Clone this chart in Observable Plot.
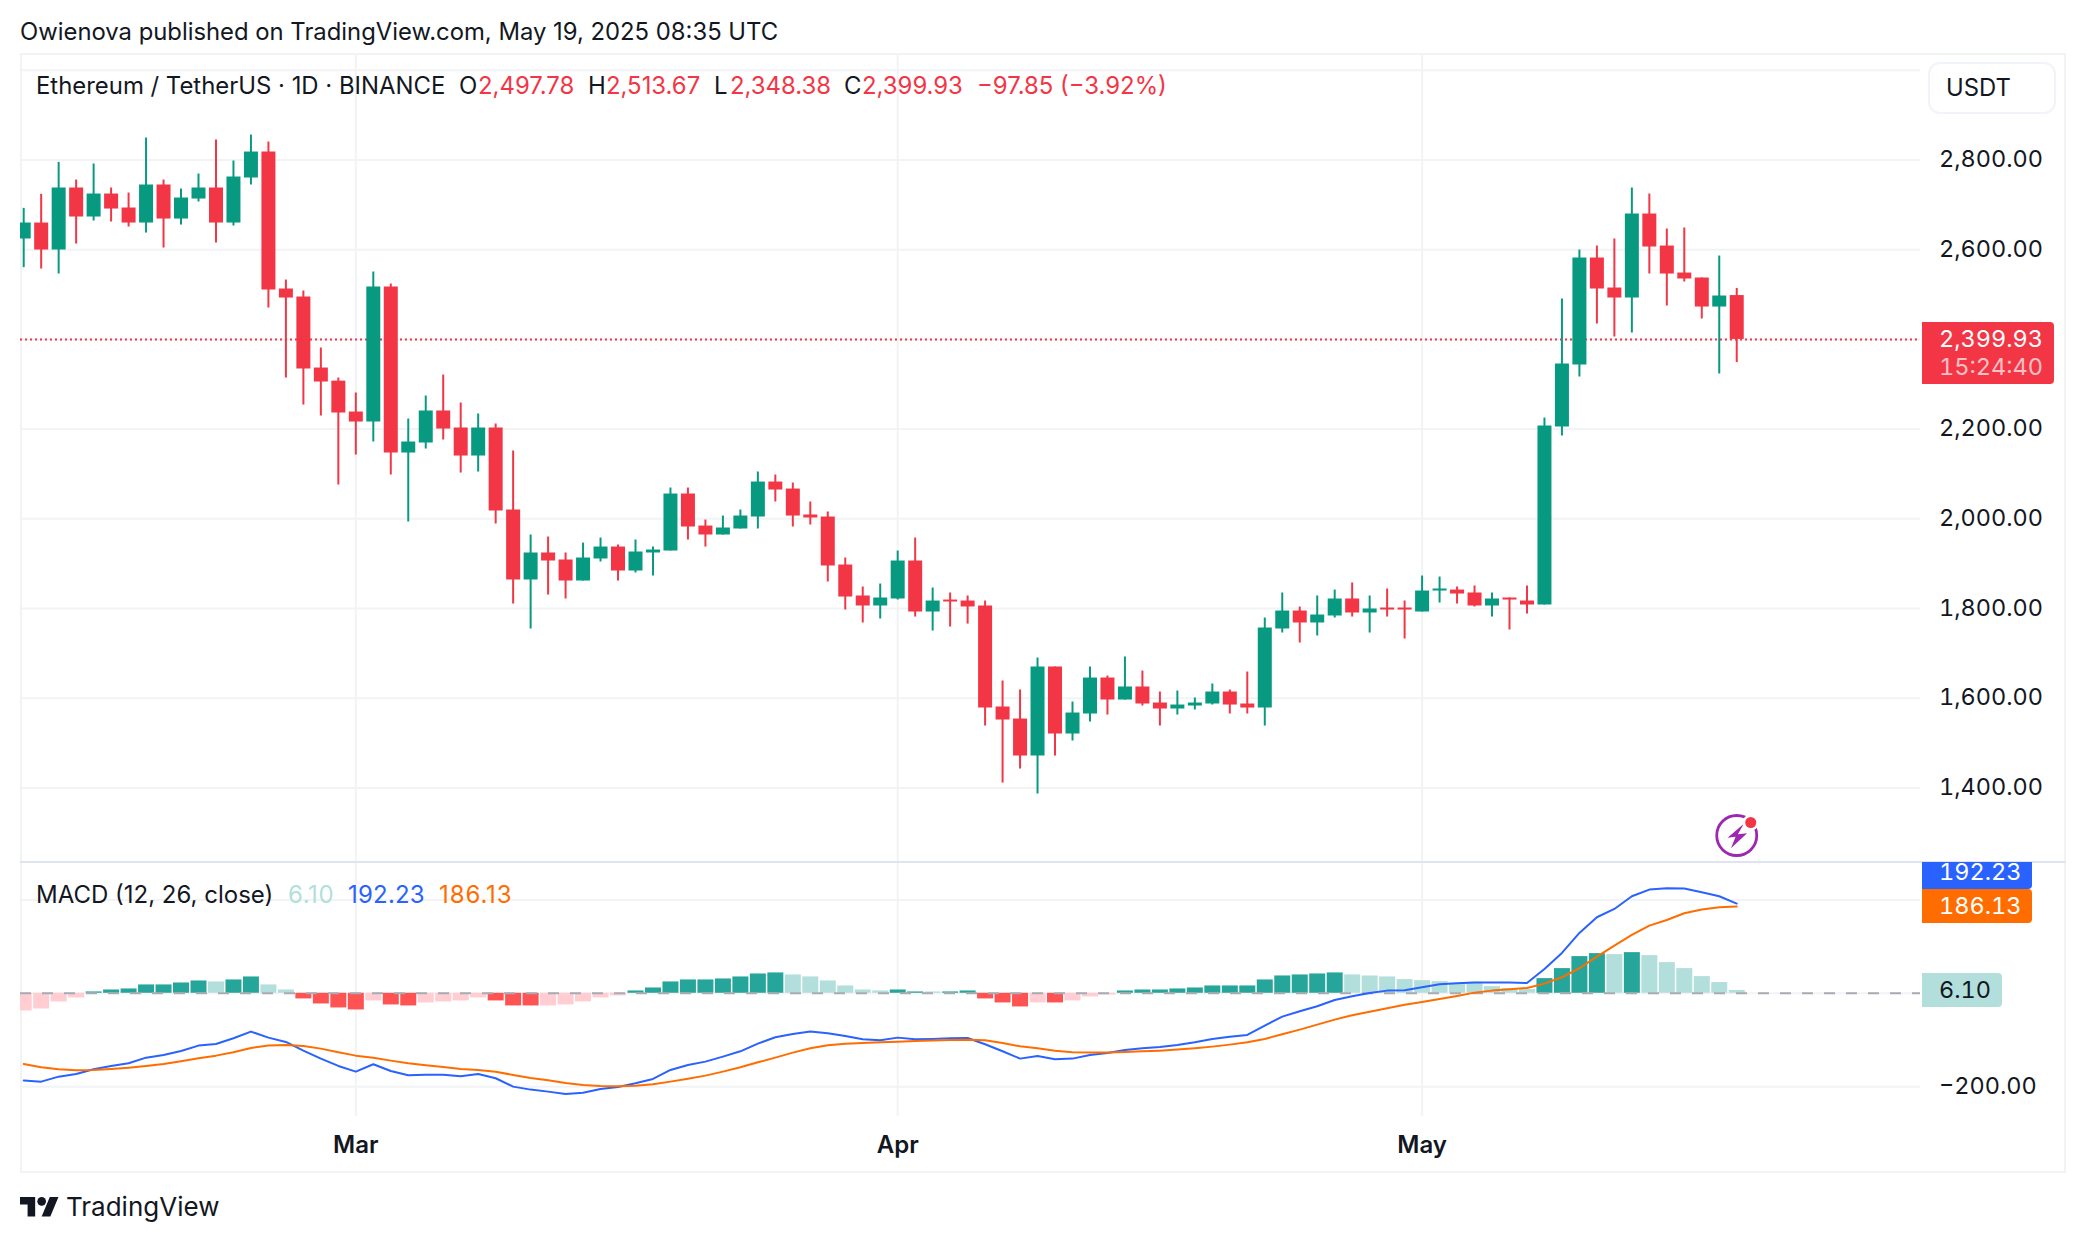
<!DOCTYPE html>
<html>
<head>
<meta charset="utf-8">
<title>Ethereum / TetherUS</title>
<script src="https://cdn.jsdelivr.net/npm/d3@7"></script>
<script src="https://cdn.jsdelivr.net/npm/@observablehq/plot@0.6"></script>
<style>
html,body{margin:0;padding:0;background:#fff;}
#page{position:relative;width:2084px;height:1242px;overflow:hidden;background:#fff;font-family:Inter,"Liberation Sans",sans-serif;color:#131722;}
#page>div>svg{display:block;}
.layer{position:absolute;left:0;}
.t{position:absolute;white-space:nowrap;transform:translateY(-50%);line-height:1.2;}
.num{font-variant-numeric:tabular-nums;}
.box{position:absolute;box-sizing:border-box;}
</style>
</head>
<body>
<div id="page"></div>
<script>
const open = [
2623.9,2659.5,2599.3,2737.6,2672.9,2724.2,2693,2659.5,2744.3,2668.4,
2713,2737.6,2659.5,2759.9,2817.8,2512.4,2494.5,2336.2,2307,2238.1,
2215.8,2516.8,2146.7,2169,2240.4,2202.5,2140,2202.5,2019.6,1863.6,
1923.8,1908.2,1861.3,1910.4,1937.1,1883.6,1923.8,1928.2,2055.3,1983.9,
1963.9,1977.3,2004,2082,2066.4,2008.5,2004,1897,1827.9,1805.6,
1821.2,1905.9,1792.2,1818.9,1816.7,1805.6,1580.4,1553.6,1471.1,1669.6,
1520.2,1564.8,1645,1596,1625,1589.3,1575.9,1582.6,1587.1,1613.8,
1587.1,1578.1,1754.3,1794.4,1767.7,1783.3,1821.2,1790,1801.1,1801.1,
1792.2,1839,1841.2,1834.6,1805.6,1823.4,1816.7,1807.8,2204.7,2342.9,
2581.5,2514.6,2492.3,2679.6,2608.2,2548,2536.9,2472.2,2497.78];
const high = [
2692.2,2723.4,2794.8,2755.4,2791.1,2737.6,2726.4,2849,2755.4,2735.3,
2768.8,2844.6,2797.8,2855.7,2840.1,2532.4,2507.9,2380.8,2313.9,2280.5,
2550.3,2523.5,2222.5,2273.8,2320.6,2258.2,2233.7,2211.4,2151.2,1963.9,
1959.4,1923.8,1946,1957.2,1941.6,1952.7,1937.1,2068.7,2068.7,1997.3,
2006.2,2019.6,2104.4,2097.7,2079.8,2037.5,2015.2,1912.6,1847.9,1854.6,
1928.2,1957.2,1845.7,1834.6,1827.9,1816.7,1638.4,1618.3,1689.6,1669.6,
1591.5,1669.6,1649.5,1691.9,1660.6,1613.8,1616,1600.4,1631.7,1618.3,
1658.4,1778.8,1834.6,1803.3,1827.9,1841.2,1856.9,1827.9,1843.5,1816.7,
1872.5,1870.2,1848,1850.2,1834.6,1823.4,1850.2,2224.7,2490.1,2599.3,
2608.2,2623.9,2737.6,2724.2,2646.2,2648.4,2536.9,2586,2513.67];
const low = [
2560,2557,2545.8,2612.7,2664,2661.8,2650.6,2637.2,2603.8,2655,
2706.4,2615,2652.8,2744.3,2470,2313.9,2253.7,2229.2,2075.4,2142.3,
2171.3,2097.7,1992.9,2155.6,2175.7,2102.1,2104.3,1988.4,1810,1754.3,
1830.1,1821.2,1861.3,1903.7,1861.3,1879.2,1872.5,1928.2,1952.7,1937.1,
1963.9,1977.3,1977.3,2037.5,1981.7,1986.2,1859.1,1796.6,1767.7,1776.6,
1818.9,1781,1749.8,1758.8,1765.4,1538,1410.9,1442.1,1386.4,1471.1,
1504.6,1546.9,1562.5,1596,1582.6,1538,1562.5,1573.7,1584.8,1564.8,
1564.8,1538,1745.4,1723.1,1738.7,1778.8,1781,1745.4,1781,1732,
1792.2,1812.3,1810,1803.4,1781,1752.1,1787.7,1807.8,2184.6,2316.2,
2434.3,2405.4,2414.3,2545.8,2474.5,2528,2445.5,2322.9,2348.38];
const close = [
2659.5,2599.3,2737.6,2672.9,2724.2,2690.7,2659.5,2744.3,2668.4,2715.3,
2737.6,2659.5,2762.1,2817.8,2510.1,2492.3,2334,2305,2235.9,2215.8,
2516.8,2146.7,2171.3,2240.4,2200.2,2140,2202.5,2017.4,1863.6,1923.8,
1905.9,1861.3,1912.6,1937.1,1883.6,1926,1930.4,2055.3,1981.7,1963.9,
1979.5,2006.2,2082,2064.2,2006.2,2001.8,1894.8,1825.6,1805.6,1823.4,
1905.9,1792.2,1816.7,1814.5,1803.4,1578.1,1551.4,1471.1,1669.6,1520.2,
1567,1645,1596,1625,1587.1,1575.9,1584.8,1589.3,1613.8,1584.8,
1578.1,1756.5,1794.4,1767.7,1785.5,1821.2,1790,1798.9,1796.6,1796.6,
1839,1843.5,1832.3,1805.6,1821.2,1818.9,1807.8,2206.9,2345.2,2581.5,
2512.4,2492.3,2679.6,2606,2545.8,2534.7,2472.2,2496.8,2399.93];
const histogram = [
-37.9,-33.6,-18.6,-10,2.9,7.1,9.3,17.9,17.9,22.1,
26.4,24.3,28.6,35,17.9,7.1,-12.1,-22.9,-31.4,-35.7,
-16.4,-25,-27.1,-20.7,-18.6,-16.4,-10,-16.4,-27.1,-27.1,
-27.1,-25,-18.6,-10,-5.7,5,11.4,24.3,28.6,28.6,
30.7,35,41.4,43.6,39.3,35,26.4,15.7,7.1,5,
7.1,2.9,2.9,2.9,5,-12.1,-20.7,-29.3,-20.7,-20.7,
-16.4,-7.9,-3.6,5,7.1,7.1,9.3,11.4,15.7,15.7,
15.7,28.6,37.1,39.3,41.4,43.6,39.3,37.1,35,29.3,
27.1,25,21.4,23.6,14.3,10,7.9,31.4,52.9,78.6,
85,82.9,87.1,80.7,65.7,52.9,35.7,22.9,6.1];
const histShade = "ppppdddddddlddllrrrrprrpppprrrpppppdddddddddllllllddlddrrrprppp"+"ddddddddddddd"+"lllllllllll"+"ddddldllllll";
const macdLine = [
-187,-189.3,-178.6,-172.9,-162.9,-155.7,-150,-137.9,-132.1,-123.6,
-112.1,-108.6,-96.4,-82.1,-95,-104.3,-122.9,-140,-155.7,-167.9,
-152.1,-166.4,-175.7,-174.3,-174.3,-177.9,-172.9,-182.1,-200,-206.4,
-210.7,-215.7,-212.9,-205,-200.7,-192.9,-183.6,-164.3,-153.6,-146.4,
-135.7,-124.3,-107.9,-94.3,-87.1,-82.1,-85.7,-91.4,-98.6,-100.7,
-95,-98.6,-97.9,-96.4,-95.7,-109.3,-124.3,-140,-134.3,-141.4,
-140,-132.1,-127.9,-121.4,-117.9,-115,-110.7,-105,-97.9,-92.9,
-89.3,-69.3,-50,-38.6,-27.9,-14.3,-6.4,0.7,5.7,6.4,
12.9,19.3,21.4,22.9,22.9,22.9,22.1,52.1,86.4,129.3,
162.9,180.7,207.9,222.1,225,224.3,216.4,207.9,192.23];
const signalLine = [
-151.4,-158.6,-162.9,-165,-164.3,-162.1,-159.3,-155.7,-151.4,-145.7,
-139.3,-133.6,-126.4,-117.1,-112.1,-110.7,-112.9,-118.6,-126.4,-133.6,
-137.9,-144.3,-150,-154.3,-157.9,-162.1,-164.3,-167.9,-175,-181.4,
-186.4,-192.1,-196.4,-198.6,-199.3,-197.9,-195,-189.3,-182.9,-176.4,
-167.9,-158.6,-147.9,-137.9,-127.1,-117.9,-111.4,-107.9,-106.4,-105,
-103.6,-102.1,-101.4,-100,-99.3,-100.7,-106.4,-113.6,-117.9,-122.9,
-126.4,-127.1,-127.1,-125.7,-124.3,-122.9,-120.7,-117.9,-114.3,-110,
-105,-97.9,-87.9,-77.9,-67.1,-56.4,-47,-39.5,-32,-24.5,
-18.6,-12.1,-5.7,1.4,5.7,8.6,11.4,20.7,34.3,53.6,
78.6,102.1,125,145,157.1,171.4,179.3,184.3,186.13];
const priceGrid = [1400,1600,1800,2000,2200,2400,2600,2800,3000];
const priceLabels = [1400,1600,1800,2000,2200,2600,2800];
const macdGrid = [-200,0,200];
const macdLabels = [-200];
const monthTicks = [new Date(Date.UTC(2025,2,1)),new Date(Date.UTC(2025,3,1)),new Date(Date.UTC(2025,4,1))];
const GREEN="#089981", RED="#F23645", GRID="#F2F3F5";
const SHADES={d:"#26A69A",l:"#B2DFDB",r:"#FF5252",p:"#FFCDD2"};
const DAY=864e5, firstDay=Date.UTC(2025,1,10);
const dates=open.map((_,i)=>new Date(firstDay+i*DAY));
const xDomain=[new Date(firstDay-0.183*DAY),new Date(firstDay+108.513*DAY)];
const candles=dates.map((date,i)=>({date,o:open[i],h:high[i],l:low[i],c:close[i],col:close[i]>=open[i]?GREEN:RED}));
const macdRows=dates.map((date,i)=>({date,hist:histogram[i],shade:SHADES[histShade[i]],macd:macdLine[i],signal:signalLine[i]}));
const lastDate=[dates[dates.length-1]];
const lastClose=close[close.length-1];

const bolt={draw(c,size){const k=Math.sqrt(size)/17.7;
  [[6,-10],[-8,2],[-1,1],[-5,11],[9,-2],[1,-1]].forEach(([a,b],i)=>i?c.lineTo(a*k,b*k):c.moveTo(a*k,b*k));c.closePath();}};

const plotStyle={background:"transparent",fontFamily:"Inter",overflow:"visible",color:"#131722",fontVariantNumeric:"tabular-nums"};
const pricePlot=Plot.plot({
  width:2084,height:862,marginLeft:20,marginRight:164,marginTop:53,marginBottom:0,
  style:plotStyle,
  x:{type:"utc",domain:xDomain,axis:null},
  y:{domain:[1233.7,3037.5],axis:null},
  color:{type:"identity"},
  marks:[
    Plot.ruleY(priceGrid,{stroke:GRID,strokeWidth:2}),
    Plot.ruleX(monthTicks,{stroke:GRID,strokeWidth:2}),
    Plot.ruleY([lastClose],{stroke:RED,strokeWidth:2,strokeDasharray:"2,3"}),
    Plot.ruleX(candles,{x:"date",y1:"l",y2:"h",stroke:"col",strokeWidth:2,clip:true}),
    Plot.ruleX(candles,{x:"date",y1:"o",y2:"c",stroke:"col",strokeWidth:14,clip:true}),
    Plot.axisY(priceLabels,{anchor:"right",tickSize:0,tickPadding:18.5,label:null,tickFormat:d3.format(",.2f"),fontSize:23.5,dy:-0.5,fill:"#131722"}),
    Plot.dot(lastDate,{x:d=>d,frameAnchor:"bottom",dy:-27,r:20,fill:"#fff",stroke:"#9C27B0",strokeWidth:2.8}),
    Plot.dot(lastDate,{x:d=>d,frameAnchor:"bottom",dy:-27,r:11.5,symbol:bolt,fill:"#9C27B0",stroke:"none"}),
    Plot.dot(lastDate,{x:d=>d,frameAnchor:"bottom",dx:14,dy:-40,r:8,fill:"#fff",stroke:"none"}),
    Plot.dot(lastDate,{x:d=>d,frameAnchor:"bottom",dx:14,dy:-40,r:5.5,fill:RED,stroke:"none"})
  ]
});

const macdPlot=Plot.plot({
  width:2084,height:310,marginLeft:20,marginRight:164,marginTop:0,marginBottom:56,
  style:plotStyle,
  x:{type:"utc",domain:xDomain,axis:null},
  y:{domain:[-264,280.2],axis:null},
  color:{type:"identity"},
  marks:[
    Plot.ruleY(macdGrid,{stroke:GRID,strokeWidth:2}),
    Plot.ruleX(monthTicks,{stroke:GRID,strokeWidth:2}),
    Plot.ruleX(macdRows,{x:"date",y1:0,y2:"hist",stroke:"shade",strokeWidth:16,clip:true}),
    Plot.ruleY([0],{stroke:"#A8ABB3",strokeWidth:2,strokeDasharray:"11,11"}),
    Plot.lineY(macdRows,{x:"date",y:"macd",stroke:"#2962FF",strokeWidth:2,clip:true}),
    Plot.lineY(macdRows,{x:"date",y:"signal",stroke:"#FF6D00",strokeWidth:2,clip:true}),
    Plot.axisY(macdLabels,{anchor:"right",tickSize:0,tickPadding:18.5,label:null,tickFormat:d3.format(",.2f"),fontSize:23.5,dy:-0.5,fill:"#131722"}),
    Plot.axisX(monthTicks,{anchor:"bottom",tickSize:0,tickPadding:19,label:null,tickFormat:d3.utcFormat("%b"),fontSize:24,fontWeight:600,fill:"#131722"})
  ]
});

const page=document.getElementById("page");
function box(left,top,w,h,css){const d=document.createElement("div");d.className="box";d.style.cssText=`left:${left}px;top:${top}px;width:${w}px;height:${h}px;${css||""}`;page.appendChild(d);return d;}
function txt(s,left,cy,size,color,extra){const d=document.createElement("div");d.className="t";d.textContent=s;d.style.cssText=`left:${left}px;top:${cy}px;font-size:${size}px;color:${color||"#131722"};${extra||""}`;page.appendChild(d);return d;}
const TAB="font-variant-numeric:tabular-nums;";

// frame
box(20,53,2046,1120,`border:2px solid ${GRID};`);
// chart layers
for(const [p,top] of [[pricePlot,0],[macdPlot,862]]){const w=document.createElement("div");w.className="layer";w.style.top=top+"px";w.appendChild(p);page.appendChild(w);}
// pane separator
box(20,861,2046,2,"background:#E0E3F0;");

// header
txt("Owienova published on TradingView.com, May 19, 2025 08:35 UTC",20,32,23.83);
txt("Ethereum / TetherUS · 1D · BINANCE",36,86,23.9);
[["O",459,"2,497.78",478],["H",588,"2,513.67",606],["L",714,"2,348.38",730],["C",844,"2,399.93",862]].forEach(([a,x1,b,x2])=>{txt(a,x1,86,23.9);txt(b,x2,86,23.9,RED);});
txt("−97.85 (−3.92%)",977,86,23.9,RED);
// MACD legend
txt("MACD (12, 26, close)",36,895,24);
txt("6.10",288,895,24,"#B2DFDB","letter-spacing:.6px;");
txt("192.23",348,895,24,"#2962FF","letter-spacing:.2px;");
txt("186.13",439,895,24,"#FF6D00","letter-spacing:.9px;");
// USDT button
box(1928,62,128,52,"border:2px solid #F0F3FA;border-radius:12px;background:#fff;");
txt("USDT",1946,87.5,23.8);

// value tags positioned through the scales
const py=pricePlot.scale("y"), my=macdPlot.scale("y");
const yP=py.apply(lastClose), yM=862+my.apply(186.13), yH=862+my.apply(6.1);
box(1922,yP-16.5,132,62,`background:${RED};border-radius:0 4px 4px 0;`);
txt("2,399.93",1939,yP,23.5,"#fff",TAB);
txt("15:24:40",1939,yP+28,23.5,"rgba(255,255,255,.7)",TAB);
box(1922,862,110,27,"background:#2962FF;border-radius:0 0 4px 0;");
txt("192.23",1939,yM-34,23.5,"#fff",TAB);
box(1922,yM-17,110,34,"background:#FF6D00;border-radius:0 4px 4px 0;");
txt("186.13",1939,yM,23.5,"#fff",TAB);
box(1922,yH-17,80,34,"background:#B2DFDB;border-radius:0 4px 4px 0;");
txt("6.10",1939,yH,23.5,"#131722",TAB);

// footer logo
const ns="http://www.w3.org/2000/svg";
const logo=document.createElementNS(ns,"svg");
logo.setAttribute("viewBox","0 4 36 18");logo.setAttribute("width","39");logo.setAttribute("height","19.5");
logo.style.cssText="position:absolute;left:20px;top:1197px;";
logo.innerHTML='<path fill="#131722" d="M14 22H7V11H0V4h14v18zM28 22h-8l7.5-18h8L28 22z"/><circle fill="#131722" cx="20" cy="8" r="4"/>';
page.appendChild(logo);
txt("TradingView",66,1207,26,"#131722");
</script>
</body>
</html>
